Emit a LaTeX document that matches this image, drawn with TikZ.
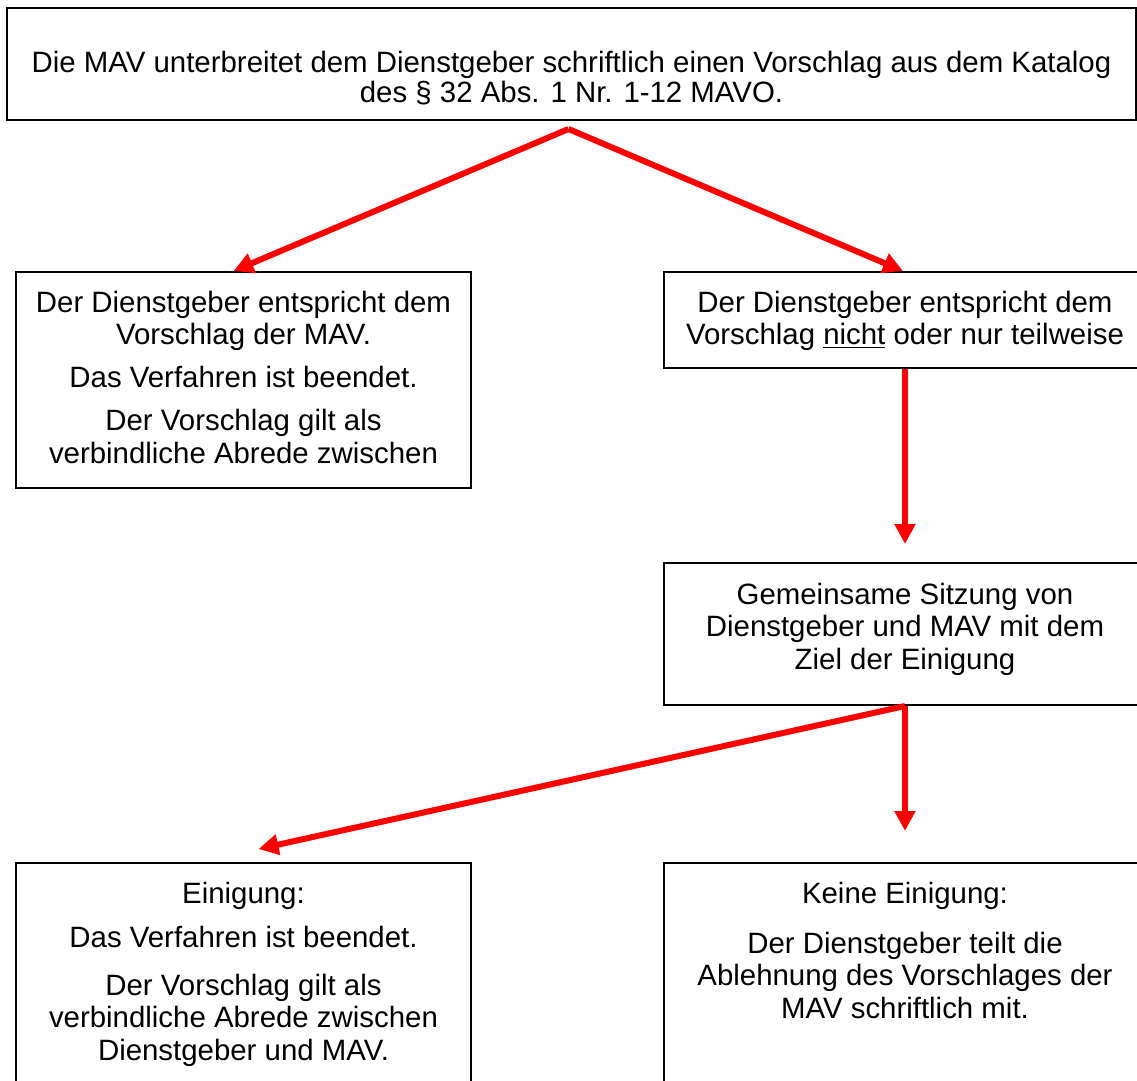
\documentclass[tikz,border=0pt]{standalone}
\usepackage{fontspec}
\setmainfont{Liberation Sans}
\usetikzlibrary{arrows.meta,fit,calc}

\begin{document}
\begin{tikzpicture}
      [ x=0.5pt, y=-0.5pt
      , kasten/.style={draw, black, line width=1pt, inner sep=0pt}
      , txt/.style={anchor=north, align=center, inner sep=0pt, font=\fontsize{14.7}{16.25}\selectfont}
      , pfeil/.style={red, line width=3pt, -{Triangle[length=10pt,width=10pt]}}
      ]
    \path[use as bounding box, clip] (0,0) rectangle (1137,1081);

    \node[kasten, fit={(7,8) (1136,120)}] (V) {};
    \node[kasten, fit={(16,272) (471,488)}] (E) {};
    \node[kasten, fit={(664,272) (1146,368)}] (N) {};
    \node[kasten, fit={(664,563) (1146,705)}] (S) {};
    \node[kasten, fit={(16,863) (471,1110)}] (EI) {};
    \node[kasten, fit={(664,863) (1146,1110)}] (KE) {};

    \node[txt] (Vt) at ($(V.north)+(0,43.5)$)
    {Die MAV unterbreitet dem Dienstgeber schriftlich einen Vorschlag aus dem Katalog\\[-1.25pt]
     des § 32 Abs. 1 Nr. 1-12 MAVO.};
    \node[txt] (Et) at ($(E.north)+(0,19.5)$)
    {Der Dienstgeber entspricht dem\\Vorschlag der MAV.\\[5.25pt]
     Das Verfahren ist beendet.\\[5.25pt]
     Der Vorschlag gilt als\\verbindliche Abrede zwischen};
    \node[txt] (Nt) at ($(N.north)+(0,19.5)$)
    {Der Dienstgeber entspricht dem\\Vorschlag \underline{nicht} oder nur teilweise};
    \node[txt] (St) at ($(S.north)+(0,20.5)$)
    {Gemeinsame Sitzung von\\Dienstgeber und MAV mit dem\\Ziel der Einigung};
    \node[txt] (EIt) at ($(EI.north)+(0,19.5)$)
    {Einigung:\\[5.75pt]
     Das Verfahren ist beendet.\\[7.75pt]
     Der Vorschlag gilt als\\verbindliche Abrede zwischen\\Dienstgeber und MAV.};
    \node[txt] (KEt) at ($(KE.north)+(0,19.5)$)
    {Keine Einigung:\\[8.75pt]
     Der Dienstgeber teilt die\\Ablehnung des Vorschlages der\\MAV schriftlich mit.};

    \coordinate (A) at ($(V.south)+(-3,8)$);

    \draw[pfeil] (A) -- ($(E.north)+(-10,0)$);
    \draw[pfeil] (A) -- ($(N.north)+(-2,0)$);
    \draw[pfeil, shorten >=9pt] (N.south) -- (S.north);
    \draw[pfeil] (S.south) -- ($(EI.north)+(15,-13)$);
    \draw[pfeil, shorten >=15.5pt] (S.south) -- (KE.north);
\end{tikzpicture}
\end{document}
